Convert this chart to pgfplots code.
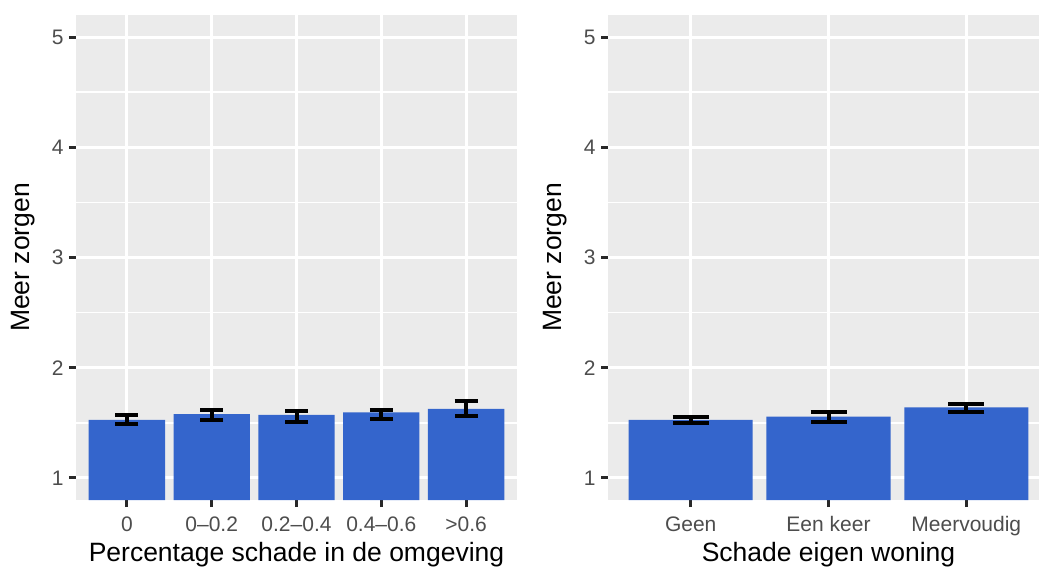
\documentclass[border=0pt]{standalone}
\usepackage{fontspec}
\setmainfont{Liberation Sans}
\usepackage{pgfplots}
\pgfplotsset{compat=1.18}
\usepackage{pgfplotstable}
\definecolor{barblue}{RGB}{52,101,204}
\definecolor{panelbg}{RGB}{235,235,235}
\definecolor{ticktext}{RGB}{77,77,77}
\definecolor{tickmark}{RGB}{40,40,40}

\pgfplotstableread{
x y ep em
0 1.527 0.046 0.042
1 1.580 0.038 0.053
2 1.573 0.033 0.061
3 1.594 0.024 0.055
4 1.627 0.067 0.061
}\leftdata

\pgfplotstableread{
x y ep em
0 1.527 0.030 0.030
1 1.557 0.037 0.051
2 1.640 0.033 0.043
}\rightdata

\pgfplotsset{gg/.style={
  scale only axis, width=441pt, height=485pt,
  anchor=south west,
  ymin=0.8, ymax=5.2, ytick={1,2,3,4,5}, minor ytick={1.5,2.5,3.5,4.5},
  xmin=-0.6,
  axis background/.style={fill=panelbg},
  axis line style={draw=none},
  grid=both,
  major grid style={white, line width=3pt},
  minor grid style={white, line width=1.5pt},
  tick align=outside, tick pos=left, major tick length=7pt, minor tick length=0pt,
  major tick style={tickmark, line width=3pt},
  ticklabel style={font=\fontsize{21}{21}\selectfont, text=ticktext},
  /pgf/number format/assume math mode=true,
  yticklabel style={anchor=east, xshift=-2pt},
  xticklabel style={anchor=base, yshift=-24pt},
  ylabel={Meer zorgen},
  label style={font=\fontsize{26.5}{26.5}\selectfont, text=black},
  ylabel style={at={(axis description cs:-0.1202,0.5)}, anchor=center},
  xlabel style={at={(axis description cs:0.5,-0.1258)}, anchor=base},
}}

\begin{document}
\begin{tikzpicture}
\useasboundingbox (0,0) rectangle (1039pt,566pt);
\clip (0,0) rectangle (1039pt,566pt);
\begin{axis}[gg, at={(76pt,66pt)}, xmax=4.6,
  xtick={0,1,2,3,4}, xticklabels={0,0–0.2,0.2–0.4,0.4–0.6,>0.6},
  xlabel={Percentage schade in de omgeving}]
\addplot[ybar, bar width=0.9, fill=barblue, draw=none,
  error bars/.cd, y dir=both, y explicit,
  error bar style={draw=black, line width=4pt},
  error mark options={draw=black, rotate=90, mark size=11.5pt, line width=4pt}]
  table[x=x, y=y, y error plus=ep, y error minus=em]{\leftdata};
\end{axis}
\begin{axis}[gg, at={(608pt,66pt)}, xmax=2.6,
  xtick={0,1,2}, xticklabels={Geen,Een keer,Meervoudig},
  xlabel={Schade eigen woning}]
\addplot[ybar, bar width=0.9, fill=barblue, draw=none,
  error bars/.cd, y dir=both, y explicit,
  error bar style={draw=black, line width=4pt},
  error mark options={draw=black, rotate=90, mark size=18pt, line width=4pt}]
  table[x=x, y=y, y error plus=ep, y error minus=em]{\rightdata};
\end{axis}
\end{tikzpicture}
\end{document}
